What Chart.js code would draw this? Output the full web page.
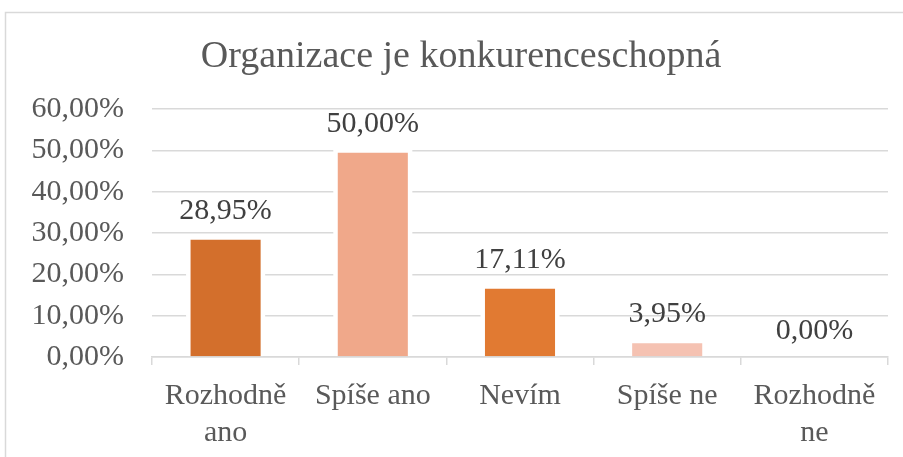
<!DOCTYPE html>
<html>
<head>
<meta charset="utf-8">
<script src="https://cdn.jsdelivr.net/npm/chart.js@4"></script>
<style>
  html, body { margin: 0; padding: 0; background: #fff; }
  #wrap { width: 903px; height: 457px; }
</style>
</head>
<body>
<div id="wrap"><canvas id="chart" width="903" height="457"></canvas></div>
<script>
/*******************
 * DATA
 ******************/
const categories = [['Rozhodně', 'ano'], 'Spíše ano', 'Nevím', 'Spíše ne', ['Rozhodně', 'ne']];
const values = [28.95, 50.00, 17.11, 3.95, 0.00];
const barColours = ['#D36F2C', '#F0A88A', '#E17A32', '#F5C2B2', '#D36F2C'];
const chartTitle = 'Organizace je konkurenceschopná';

const serif = '"Liberation Serif", "Times New Roman", serif';
const textColour = '#595959';

function pct(v) {
    return v.toFixed(2).replace('.', ',') + '%';
}

/*******************
 * PLUGIN - FRAME, TITLE, WHITE GAP ROUND BARS, VALUE LABELS
 ******************/
const excelLook = {
    id: 'excelLook',
    beforeDraw(chart) {
        const ctx = chart.ctx;
        ctx.save();
        ctx.strokeStyle = '#d9d9d9';
        ctx.lineWidth = 1.5;
        ctx.strokeRect(5.5, 12.5, 1000, 1000);

        // title sits centred on the (wider) frame, not on the canvas
        ctx.font = '38px ' + serif;
        ctx.fillStyle = textColour;
        ctx.textAlign = 'center';
        ctx.textBaseline = 'alphabetic';
        ctx.fillText(chartTitle, 461, 67);
        ctx.restore();
    },
    beforeDatasetsDraw(chart) {
        // white outline outside each bar, hides the gridlines next to it
        const ctx = chart.ctx;
        const bars = chart.getDatasetMeta(0).data;
        ctx.save();
        ctx.fillStyle = '#ffffff';
        for (const bar of bars) {
            if (bar.base - bar.y < 0.5) continue;
            ctx.fillRect(bar.x - bar.width / 2 - 2, bar.y - 2, bar.width + 4, bar.base - bar.y + 1);
        }
        ctx.restore();
    },
    afterDatasetsDraw(chart) {
        const ctx = chart.ctx;
        const bars = chart.getDatasetMeta(0).data;
        ctx.save();
        ctx.font = '30px ' + serif;
        ctx.fillStyle = '#404040';
        ctx.textAlign = 'center';
        ctx.textBaseline = 'alphabetic';
        for (let i = 0; i < bars.length; i++) {
            ctx.fillText(pct(values[i]), bars[i].x, bars[i].y - 18.5);
        }
        ctx.restore();
    }
};

/*******************
 * CHART
 ******************/
new Chart(document.getElementById('chart'), {
    type: 'bar',
    data: {
        labels: categories,
        datasets: [{
            data: values,
            backgroundColor: barColours,
            borderColor: '#ffffff',
            borderWidth: 2.5,
            borderSkipped: 'start',
            barPercentage: 0.51,
            categoryPercentage: 1,
        }]
    },
    options: {
        responsive: false,
        animation: false,
        layout: { padding: { left: 0, right: 15, top: 109, bottom: 0 } },
        plugins: {
            legend: { display: false },
            tooltip: { enabled: false },
            title: { display: false },
        },
        scales: {
            y: {
                min: 0,
                max: 60,
                ticks: {
                    stepSize: 10,
                    color: textColour,
                    font: { family: serif, size: 30 },
                    padding: 28,
                    callback: v => pct(v),
                },
                grid: { color: '#d9d9d9', lineWidth: 1.5, drawTicks: false },
                border: { display: false },
                afterFit(scale) { scale.width = 152; },
            },
            x: {
                ticks: {
                    color: textColour,
                    font: { family: serif, size: 30, lineHeight: 1.23 },
                    padding: 13,
                    maxRotation: 0,
                    autoSkip: false,
                },
                grid: {
                    display: true,
                    drawOnChartArea: false,
                    drawTicks: true,
                    tickLength: 8,
                    offset: true,
                    color: '#d9d9d9',
                    lineWidth: 1.5,
                },
                border: { display: true, color: '#d9d9d9', width: 1.5 },
                afterFit(scale) { scale.height = 100; },
            },
        },
    },
    plugins: [excelLook],
});
</script>
</body>
</html>
